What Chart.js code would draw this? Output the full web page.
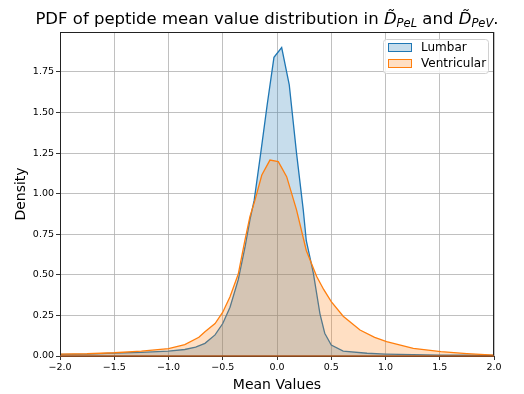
<!DOCTYPE html>
<html>
<head>
<meta charset="utf-8">
<script src="https://cdn.jsdelivr.net/npm/chart.js@4"></script>
<style>
  body { margin: 0; background: #fff; }
  #wrap { position: relative; width: 524px; height: 394px; }
  #title {
    position: absolute; left: 0; width: 534px; top: 9px;
    text-align: center; font: 16.5px 'DejaVu Sans'; color: #000; white-space: nowrap;
  }
  #title i { font-style: italic; }
  #title sub { font-size: 0.7em; font-style: italic; vertical-align: -0.25em; }
</style>
</head>
<body>
<div id="wrap">
  <canvas id="myChart" width="524" height="394"></canvas>
  <div id="title">PDF of peptide mean value distribution in <i>D&#771;</i><sub>PeL</sub> and <i>D&#771;</i><sub>PeV</sub>.</div>
</div>
<script>
// KDE curves
const lumbarX = [-2.0, -1.75, -1.5, -1.25, -1.0, -0.85, -0.75, -0.664, -0.571, -0.5, -0.433, -0.357, -0.295, -0.249, -0.21, -0.15, -0.09, -0.028, 0.043, 0.113, 0.18, 0.242, 0.27, 0.335, 0.396, 0.44, 0.5, 0.61, 0.83, 1.0, 1.25, 1.5, 1.75, 2.0];
const lumbarY = [0.01, 0.012, 0.018, 0.022, 0.03, 0.04, 0.055, 0.078, 0.13, 0.20, 0.30, 0.47, 0.67, 0.84, 0.96, 1.25, 1.55, 1.84, 1.90, 1.67, 1.25, 0.90, 0.71, 0.51, 0.26, 0.14, 0.068, 0.03, 0.017, 0.012, 0.008, 0.006, 0.005, 0.004];

const ventricularX = [-2.0, -1.75, -1.5, -1.25, -1.0, -0.85, -0.72, -0.664, -0.571, -0.5, -0.433, -0.357, -0.295, -0.249, -0.203, -0.14, -0.065, 0.012, 0.089, 0.18, 0.27, 0.366, 0.43, 0.5, 0.61, 0.765, 0.9, 1.01, 1.256, 1.51, 1.75, 2.0];
const ventricularY = [0.012, 0.014, 0.02, 0.03, 0.045, 0.07, 0.115, 0.15, 0.20, 0.27, 0.365, 0.505, 0.715, 0.86, 0.96, 1.115, 1.207, 1.197, 1.105, 0.90, 0.65, 0.49, 0.41, 0.335, 0.245, 0.16, 0.115, 0.088, 0.047, 0.027, 0.015, 0.006];

const xTicks = [-2, -1.5, -1, -0.5, 0, 0.5, 1, 1.5, 2];
const yTicks = [0, 0.25, 0.5, 0.75, 1.0, 1.25, 1.5, 1.75];

const seriesNames = ['Lumbar', 'Ventricular'];
const lineColors = ['#1f77b4', '#ff7f0e'];
const fillColors = ['rgba(31,119,180,0.25)', 'rgba(255,127,14,0.25)'];

const toPoints = (xs, ys) => xs.map((x, i) => ({x: x, y: ys[i]}));
const minus = s => s.replace('-', '\u2212');

// plot frame + legend inside the axes, like matplotlib
const framePlugin = {
  id: 'frame',
  afterDraw(chart) {
    const {ctx, chartArea: a} = chart;
    ctx.save();
    ctx.strokeStyle = '#222';
    ctx.lineWidth = 1;
    ctx.strokeRect(a.left + 0.5, a.top + 0.5, a.right - a.left - 1, a.bottom - a.top);
    ctx.strokeStyle = '#a8561e';
    ctx.lineWidth = 1.6;
    ctx.beginPath();
    ctx.moveTo(a.left, a.bottom);
    ctx.lineTo(a.right, a.bottom);
    ctx.stroke();

    // legend
    const bx = 383, by = 39, bw = 105, bh = 34;
    ctx.fillStyle = 'rgba(255,255,255,0.8)';
    ctx.strokeStyle = '#d0d0d0';
    ctx.lineWidth = 1;
    ctx.beginPath();
    ctx.roundRect(bx + 0.5, by + 0.5, bw, bh, 3);
    ctx.fill();
    ctx.stroke();
    ctx.font = '12px "DejaVu Sans"';
    ctx.textBaseline = 'middle';
    seriesNames.forEach((name, i) => {
      const y = by + 8 + i * 16;
      ctx.fillStyle = fillColors[i];
      ctx.fillRect(388, y - 4, 23, 8);
      ctx.strokeStyle = lineColors[i];
      ctx.strokeRect(388.5, y - 3.5, 23, 8);
      ctx.fillStyle = '#000';
      ctx.fillText(name, 421, y + 1);
    });
    ctx.restore();
  }
};

const ctx = document.getElementById('myChart').getContext('2d');

const myChart = new Chart(ctx, {
  type: 'line',
  data: {
    datasets: [
      {
        label: seriesNames[0],
        data: toPoints(lumbarX, lumbarY),
        borderColor: lineColors[0],
        backgroundColor: fillColors[0],
        borderWidth: 1.3,
        fill: 'origin',
        order: 2
      },
      {
        label: seriesNames[1],
        data: toPoints(ventricularX, ventricularY),
        borderColor: lineColors[1],
        backgroundColor: fillColors[1],
        borderWidth: 1.3,
        fill: 'origin',
        order: 1
      }
    ]
  },
  options: {
    responsive: false,
    animation: false,
    elements: { point: { radius: 0 }, line: { tension: 0 } },
    layout: { padding: { top: 32, right: 30, left: 0, bottom: 0 } },
    plugins: { legend: { display: false }, tooltip: { enabled: false } },
    scales: {
      x: {
        type: 'linear',
        min: -2, max: 2,
        afterBuildTicks: s => { s.ticks = xTicks.map(v => ({value: v})); },
        afterFit: s => { s.height = 38; },
        border: { display: false },
        grid: { color: '#b0b0b0', lineWidth: 0.8, tickLength: 4, tickColor: '#000' },
        ticks: {
          color: '#000', font: { size: 9.5, family: 'DejaVu Sans' }, padding: 2, maxRotation: 0,
          callback: v => minus(v.toFixed(1))
        },
        title: {
          display: true, text: 'Mean Values', color: '#000',
          font: { size: 14, family: 'DejaVu Sans' }, padding: { top: 1, bottom: 0 }
        }
      },
      y: {
        min: 0, max: 1.996,
        afterBuildTicks: s => { s.ticks = yTicks.map(v => ({value: v})); },
        afterFit: s => { s.width = 60; },
        border: { display: false },
        grid: { color: '#b0b0b0', lineWidth: 0.8, tickLength: 4, tickColor: '#000' },
        ticks: {
          color: '#000', font: { size: 9.5, family: 'DejaVu Sans' }, padding: 2,
          callback: v => v.toFixed(2)
        },
        title: {
          display: true, text: 'Density', color: '#000',
          font: { size: 14, family: 'DejaVu Sans' }, padding: { top: 13, bottom: 0 }
        }
      }
    }
  },
  plugins: [framePlugin]
});
</script>
</body>
</html>
